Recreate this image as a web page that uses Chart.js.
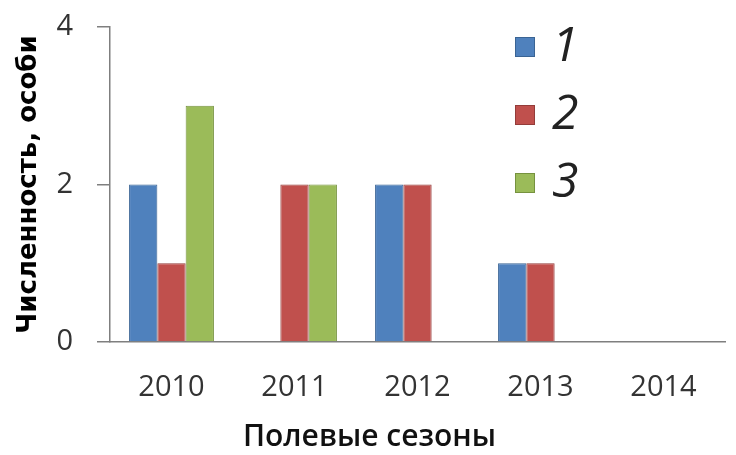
<!DOCTYPE html>
<html>
<head>
<meta charset="utf-8">
<script src="https://cdn.jsdelivr.net/npm/chart.js@4/dist/chart.umd.min.js"></script>
<style>
  html, body { margin: 0; padding: 0; background: #fff; }
  #wrap { width: 736px; height: 455px; }
</style>
</head>
<body>
<div id="wrap"><canvas id="myChart" width="736" height="455"></canvas></div>
<script>
// Полевые сезоны
var seasons = ["2010", "2011", "2012", "2013", "2014"];
var seriesNames = ["1", "2", "3"];
var series1 = [2, 0, 2, 1, 0];
var series2 = [1, 2, 2, 1, 0];
var series3 = [3, 2, 0, 0, 0];
var yTicks = [0, 2, 4];

var fills = ["#4F81BD", "#C0504D", "#9BBB59"];
var borders = ["#3A6494", "#943C3A", "#76923F"];

// легенда справа вверху, как в Excel
var sideLegend = {
  id: "sideLegend",
  afterDraw: function (chart) {
    var c = chart.ctx;
    c.save();
    chart.data.datasets.forEach(function (ds, i) {
      var cy = 47 + i * 68;
      c.fillStyle = ds.backgroundColor;
      c.fillRect(515, cy - 10, 20, 20);
      c.strokeStyle = ds.borderColor;
      c.lineWidth = 1;
      c.strokeRect(515.5, cy - 9.5, 19, 19);
      c.fillStyle = "#222";
      c.font = "italic 48px 'Open Sans'";
      c.textBaseline = "middle";
      c.textAlign = "left";
      c.fillText(ds.label, 552, cy);
    });
    c.restore();
  },
};

var ctx = document.getElementById("myChart").getContext("2d");
var myChart = new Chart(ctx, {
  type: "bar",
  data: {
    labels: seasons,
    datasets: [series1, series2, series3].map(function (vals, i) {
      return {
        label: seriesNames[i],
        data: vals,
        backgroundColor: fills[i],
        borderColor: borders[i],
        borderWidth: 1,
        categoryPercentage: 0.69,
        barPercentage: 1,
      };
    }),
  },
  options: {
    responsive: false,
    animation: false,
    layout: { padding: { top: 27, right: 11, left: 14, bottom: 0 } },
    plugins: {
      legend: { display: false },
      tooltip: { enabled: false },
      title: {
        display: true,
        position: "bottom",
        text: "Полевые сезоны",
        color: "#111",
        font: { family: "'Open Sans'", size: 30, weight: "600" },
        padding: { top: 4, bottom: 0 },
      },
    },
    scales: {
      x: {
        grid: { display: false },
        border: { display: true, color: "#7F7F7F", width: 1.5 },
        ticks: {
          color: "#333",
          font: { family: "'Open Sans'", size: 29 },
          padding: 20,
          maxRotation: 0,
        },
        afterFit: function (scale) {
          scale.height = 73;
        },
      },
      y: {
        min: 0,
        max: 4,
        afterBuildTicks: function (scale) {
          scale.ticks = yTicks.map(function (v) {
            return { value: v };
          });
        },
        grid: {
          drawOnChartArea: false,
          drawTicks: true,
          tickLength: 13,
          color: "#7F7F7F",
          lineWidth: 1.5,
        },
        border: { display: true, color: "#7F7F7F", width: 1.5 },
        ticks: {
          color: "#333",
          font: { family: "'Open Sans'", size: 29 },
          padding: 24,
        },
        title: {
          display: true,
          text: "Численность, особи",
          color: "#000",
          font: { family: "'DejaVu Sans'", size: 26, weight: "bold" },
          padding: { top: 0, bottom: 0 },
        },
        afterFit: function (scale) {
          scale.width = 96;
          // подписи не должны сдвигать область графика вниз
          scale.paddingTop = 0;
          scale.paddingBottom = 0;
        },
      },
    },
  },
  plugins: [sideLegend],
});
</script>
</body>
</html>
